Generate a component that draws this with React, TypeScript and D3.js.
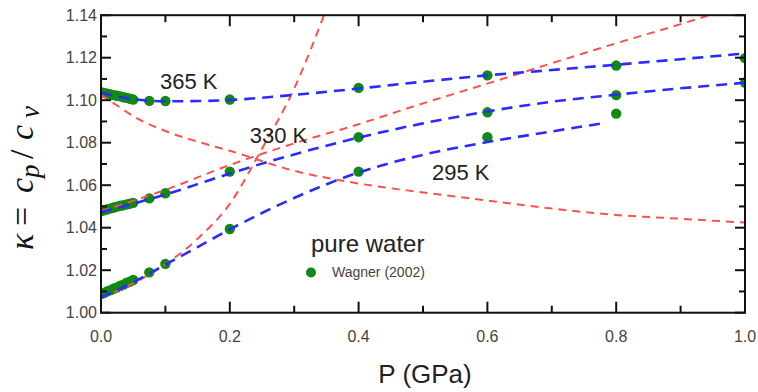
import React from "react";
import * as d3 from "d3";

// ---- data ----
const xTicks = [0, 0.2, 0.4, 0.6, 0.8, 1.0];
const yTicks = [1.0, 1.02, 1.04, 1.06, 1.08, 1.1, 1.12, 1.14];

// Wagner (2002) reference points
const pLow = [0, 0.005, 0.01, 0.015, 0.02, 0.025, 0.03, 0.035, 0.04, 0.045, 0.05, 0.075, 0.1];
const w295Low = [1.0088, 1.0093, 1.0101, 1.0106, 1.0114, 1.0119, 1.0127, 1.0132, 1.0141, 1.0146, 1.0154, 1.0190, 1.0230];
const w330Low = [1.0478, 1.0482, 1.0487, 1.0491, 1.0495, 1.0499, 1.0503, 1.0506, 1.0510, 1.0513, 1.0517, 1.0538, 1.0562];
const w365Low = [1.1038, 1.1034, 1.1031, 1.1027, 1.1024, 1.1021, 1.1018, 1.1014, 1.1011, 1.1007, 1.1003, 1.0997, 1.0996];
const pHigh = [0.2, 0.4, 0.6, 0.8, 1.0];
const w295High = [1.0394, 1.0664, 1.0826, 1.0937];
const w330High = [1.0664, 1.0826, 1.0943, 1.1024, 1.1083];
const w365High = [1.1003, 1.1058, 1.1117, 1.1163, 1.1198];

// blue dashed curves (model fits)
const pBlue = [0, 0.05, 0.1, 0.15, 0.2, 0.3, 0.4, 0.5, 0.6, 0.7, 0.8, 0.9, 1.0];
const blue365 = [1.1035, 1.1005, 1.0995, 1.0996, 1.1001, 1.1025, 1.1055, 1.1087, 1.1117, 1.1142, 1.1167, 1.1193, 1.122];
const blue330 = [1.0473, 1.0513, 1.0556, 1.0605, 1.0655, 1.0745, 1.0824, 1.0891, 1.0947, 1.0993, 1.1026, 1.1056, 1.1082];
const pBlue295 = [0, 0.05, 0.1, 0.15, 0.2, 0.3, 0.4, 0.5, 0.6, 0.7, 0.78];
const blue295 = [1.0073, 1.0143, 1.0226, 1.0309, 1.0392, 1.054, 1.066, 1.0743, 1.0803, 1.0853, 1.0892];

// red dashed curves
const pRedDown = [0, 0.025, 0.05, 0.1, 0.15, 0.2, 0.3, 0.4, 0.5, 0.6, 0.7, 0.8, 0.9, 1.0];
const redDown = [1.1025, 1.0975, 1.0925, 1.0855, 1.0805, 1.0762, 1.0668, 1.0608, 1.0566, 1.0528, 1.049, 1.046, 1.0442, 1.0424];
const pRedSteep = [0, 0.05, 0.1, 0.15, 0.2, 0.25, 0.3, 0.35];
const redSteep = [1.0075, 1.0138, 1.0228, 1.0348, 1.0512, 1.0772, 1.1055, 1.143];
const pRedMid = [0, 0.1, 0.2, 0.3, 0.4, 0.5, 0.6, 0.7, 0.8, 0.9, 0.96];
const redMid = [1.0478, 1.0578, 1.0695, 1.0797, 1.0887, 1.0985, 1.1078, 1.1174, 1.1268, 1.1358, 1.1415];

const labels = [
  { text: "365 K", p: 0.0916, v: 1.1053 },
  { text: "330 K", p: 0.231, v: 1.0799 },
  { text: "295 K", p: 0.514, v: 1.0624 },
];

// y-axis title glyphs: text, start offset along the axis, subscript flag
const yTitle = [
  { t: "κ", s: -77, sub: false },
  { t: "=", s: -53, sub: false },
  { t: "c", s: -20, sub: false },
  { t: "p", s: -5, sub: true },
  { t: "/", s: 14, sub: false },
  { t: "c", s: 33, sub: false },
  { t: "v", s: 55, sub: true },
];

const W = 758;
const H = 392;

export default function App() {
  const xs = d3.scaleLinear().domain([0, 1]).range([101, 745]);
  const ys = d3.scaleLinear().domain([1.0, 1.14]).range([312.7, 15.2]);
  const [x0, x1] = xs.range();
  const [y0, y1] = ys.range();

  const line = d3
    .line<[number, number]>()
    .x((d) => xs(d[0]))
    .y((d) => ys(d[1]))
    .curve(d3.curveMonotoneX);
  const zip = (ps: number[], vs: number[]) => vs.map((v, i) => [ps[i], v] as [number, number]);

  const points: [number, number][] = [
    ...zip(pLow, w295Low),
    ...zip(pLow, w330Low),
    ...zip(pLow, w365Low),
    ...zip(pHigh, w295High),
    ...zip(pHigh, w330High),
    ...zip(pHigh, w365High),
  ];

  const blues = [zip(pBlue, blue365), zip(pBlue, blue330), zip(pBlue295, blue295)];
  const reds = [zip(pRedDown, redDown), zip(pRedSteep, redSteep), zip(pRedMid, redMid)];

  const xMinor = d3.range(0, 11).map((i) => i / 10);
  const yMinor = d3.range(0, 15).map((i) => 1 + i / 100);

  const green = "#118a11";
  const font = "'Liberation Sans', Arial, sans-serif";

  return (
    <svg width={W} height={H} style={{ position: "absolute", left: 0, top: 0, background: "#fff" }}>
      <defs>
        <clipPath id="plot">
          <rect x={x0} y={y1} width={x1 - x0} height={y0 - y1} />
        </clipPath>
      </defs>
      <rect x={0} y={0} width={W} height={H} fill="#fff" />
      <g clipPath="url(#plot)">
        {points.map((d, i) => (
          <circle key={i} cx={xs(d[0])} cy={ys(d[1])} r={5.2} fill={green} />
        ))}
        {reds.map((d, i) => (
          <path key={"r" + i} d={line(d) || ""} fill="none" stroke="#ff5050" strokeWidth={2} strokeDasharray="8,6" />
        ))}
        {blues.map((d, i) => (
          <path key={"b" + i} d={line(d) || ""} fill="none" stroke="#2b2bff" strokeWidth={2.6} strokeDasharray="11,7" />
        ))}
      </g>
      {/* frame */}
      <rect x={x0} y={y1} width={x1 - x0} height={y0 - y1} fill="none" stroke="#111" strokeWidth={2} />
      {/* x ticks */}
      {xMinor.map((t, i) => {
        const len = i % 2 === 0 ? 11 : 7;
        const x = xs(t);
        return (
          <g key={"xt" + i} stroke="#111" strokeWidth={2}>
            <line x1={x} x2={x} y1={y0} y2={y0 - len} />
            <line x1={x} x2={x} y1={y1} y2={y1 + len} />
          </g>
        );
      })}
      {yMinor.map((t, i) => {
        const len = i % 2 === 0 ? 10 : 6;
        const y = ys(t);
        return (
          <g key={"yt" + i} stroke="#111" strokeWidth={2}>
            <line x1={x0} x2={x0 + len} y1={y} y2={y} />
            <line x1={x1} x2={x1 - len} y1={y} y2={y} />
          </g>
        );
      })}
      {xTicks.map((t, i) => (
        <text key={"xl" + i} x={xs(t)} y={342} textAnchor="middle" fontFamily={font} fontSize={16} fill="#444">
          {d3.format(".1f")(t)}
        </text>
      ))}
      {yTicks.map((t, i) => (
        <text key={"yl" + i} x={97} y={ys(t)} dy="0.35em" textAnchor="end" fontFamily={font} fontSize={16} fill="#444">
          {d3.format(".2f")(t)}
        </text>
      ))}
      {/* axis titles */}
      <text x={(x0 + x1) / 2 + 2} y={383} textAnchor="middle" fontFamily={font} fontSize={26} fill="#222">
        P (GPa)
      </text>
      <g transform="translate(33,173) rotate(-90)">
        <text fontFamily="'Liberation Serif', 'DejaVu Serif', serif" fontSize={34} fill="#111">
          {yTitle.map((g, i) => (
            <tspan
              key={i}
              x={g.s}
              y={g.sub ? 6 : 0}
              fontStyle={g.t === "=" || g.t === "/" ? "normal" : "italic"}
              fontSize={g.sub ? 27 : 34}
            >
              {g.t}
            </tspan>
          ))}
        </text>
      </g>
      {/* curve labels */}
      {labels.map((l, i) => (
        <text key={"lab" + i} x={xs(l.p)} y={ys(l.v)} fontFamily={font} fontSize={22} fill="#222">
          {l.text}
        </text>
      ))}
      {/* legend */}
      <text x={311} y={252} fontFamily={font} fontSize={24} fill="#222">
        pure water
      </text>
      <circle cx={311} cy={272.5} r={5} fill={green} />
      <text x={332} y={277} fontFamily={font} fontSize={14} fill="#444">
        Wagner (2002)
      </text>
    </svg>
  );
}
